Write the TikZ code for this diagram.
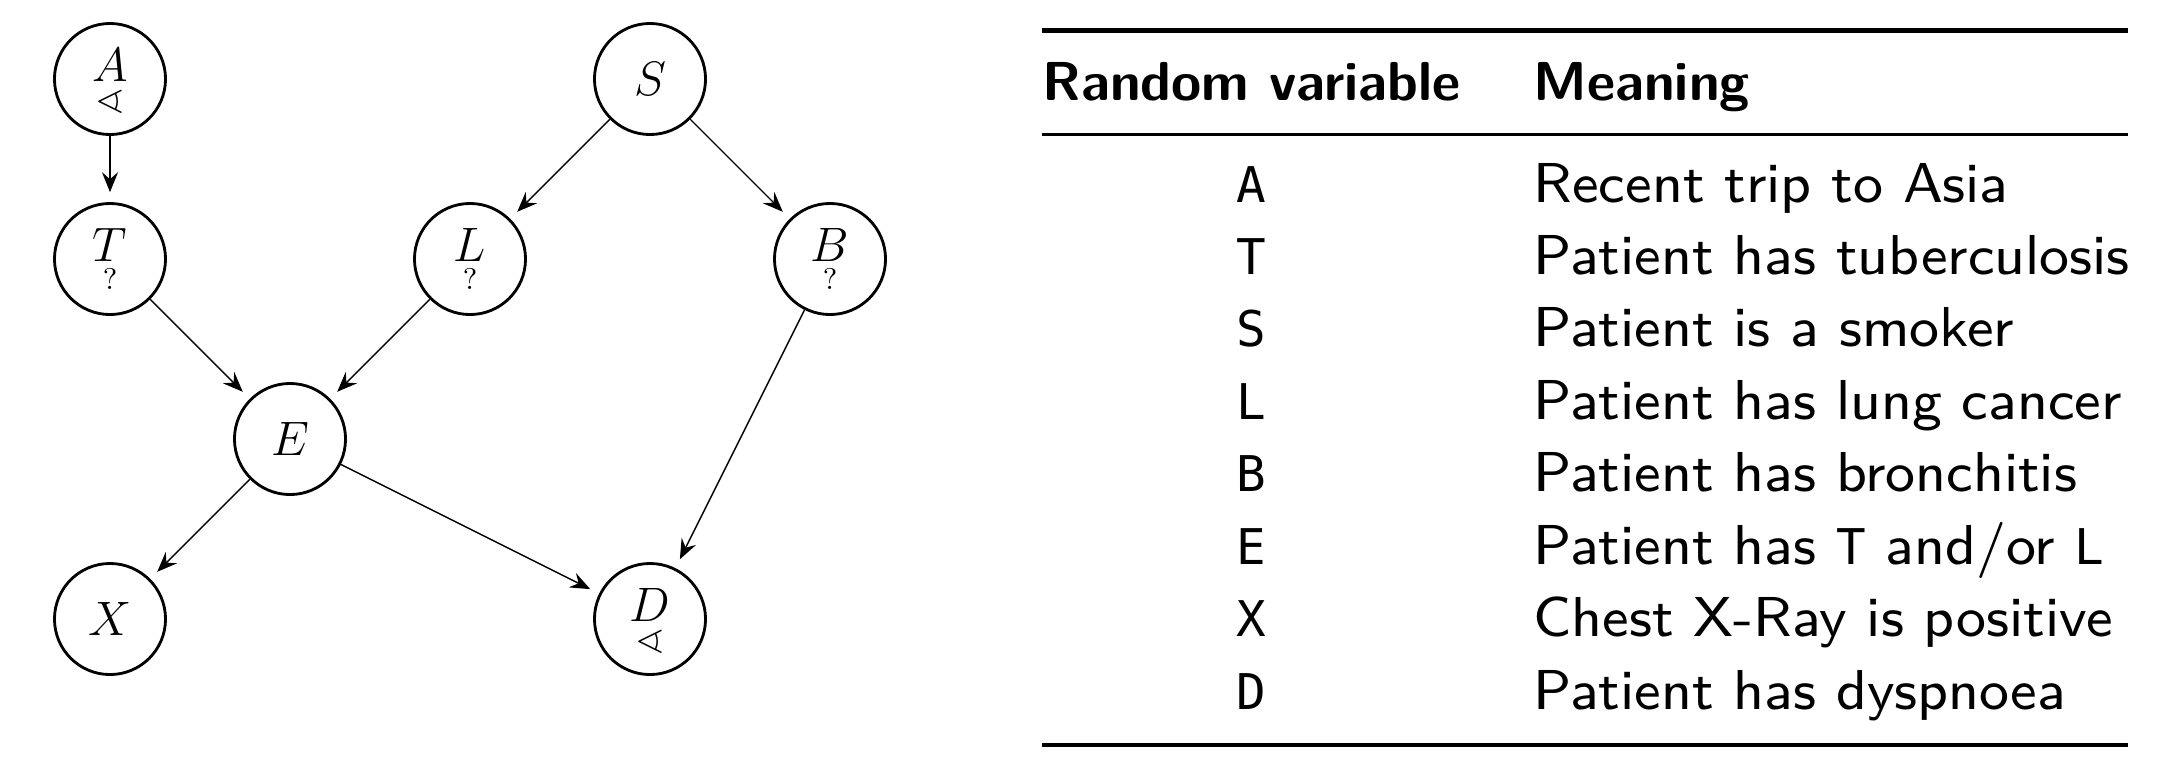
\RequirePackage{fix-cm}
\documentclass[tikz,border=0pt]{standalone}
\usepackage{amssymb}
\usepackage{fontspec}
\newfontfamily\monofam{DejaVu Sans Mono}
\newfontfamily\sanseight{lmsans8-regular.otf}
\newfontfamily\sansbold{lmsans10-bold.otf}
\usetikzlibrary{arrows.meta}
\newcommand{\mtt}[1]{{\monofam\fontsize{14}{17}\selectfont #1}}
\begin{document}
\begin{tikzpicture}[x=0.01cm,y=-0.01cm,
  var/.style={circle,draw,line width=0.8pt,minimum size=1.11cm,inner sep=0pt,font=\fontsize{13.75}{16}\selectfont},
  lettr/.style={inner sep=0pt,anchor=base,font=\fontsize{13.75}{16}\selectfont},
  symb/.style={inner sep=0pt,font=\fontsize{8.5}{10}\selectfont},
  angsymb/.style={inner sep=0pt,font=\fontsize{11}{13}\selectfont},
  edge/.style={-{Stealth[length=0.2cm,width=0.16cm,inset=0.07cm]},line width=0.4pt,shorten >=2.8pt},
  txt/.style={inner sep=0pt,anchor=base west,font=\sanseight\fontsize{16}{19}\selectfont},
  hdr/.style={inner sep=0pt,anchor=base west,font=\sansbold\fontsize{15.6}{19}\selectfont},
  code/.style={inner sep=0pt,anchor=base,font=\monofam\fontsize{14}{17}\selectfont},
  heavyrule/.style={line width=1.28pt},
  lightrule/.style={line width=0.85pt},
]
\useasboundingbox (0,0) rectangle (2170,766);
% graph
\node[var] (A) at (110,79) {};
\node[lettr] (Al) at (110,81) {$A$};
\node[angsymb] (As) at (110,102) {$\sphericalangle$};
\node[var] (S) at (650,79) {$S$};
\node[var] (T) at (110,259) {};
\node[lettr] (Tl) at (110,261) {$T$};
\node[symb] (Tq) at (110,279) {?};
\node[var] (L) at (470,259) {};
\node[lettr] (Ll) at (470,261) {$L$};
\node[symb] (Lq) at (470,279) {?};
\node[var] (B) at (830,259) {};
\node[lettr] (Bl) at (830,261) {$B$};
\node[symb] (Bq) at (830,279) {?};
\node[var] (E) at (290,439) {$E$};
\node[var] (X) at (110,619) {$X$};
\node[var] (D) at (650,619) {};
\node[lettr] (Dl) at (650,621) {$D$};
\node[angsymb] (Ds) at (650,642) {$\sphericalangle$};
\draw[edge] (A) -- (T);
\draw[edge] (S) -- (L);
\draw[edge] (S) -- (B);
\draw[edge] (T) -- (E);
\draw[edge] (L) -- (E);
\draw[edge] (B) -- (D);
\draw[edge] (E) -- (X);
\draw[edge] (E) -- (D);
% table
\draw[heavyrule] (1042,30.7) -- (2128,30.7);
\draw[lightrule] (1042,134) -- (2128,134);
\draw[heavyrule] (1042,745) -- (2128,745);
\node[hdr] (h1) at (1042,100) {Random variable};
\node[hdr] (h2) at (1533,100) {Meaning};
\node[code] (cA) at (1251,202) {A};
\node[txt] (mA) at (1533,202) {Recent trip to Asia};
\node[code] (cT) at (1251,274.4) {T};
\node[txt] (mT) at (1533,274.4) {Patient has tuberculosis};
\node[code] (cS) at (1251,346.9) {S};
\node[txt] (mS) at (1533,346.9) {Patient is a smoker};
\node[code] (cL) at (1251,419.3) {L};
\node[txt] (mL) at (1533,419.3) {Patient has lung cancer};
\node[code] (cB) at (1251,491.7) {B};
\node[txt] (mB) at (1533,491.7) {Patient has bronchitis};
\node[code] (cE) at (1251,564.1) {E};
\node[txt] (mE) at (1533,564.1) {Patient has \mtt{T} and/or \mtt{L}};
\node[code] (cX) at (1251,636.6) {X};
\node[txt] (mX) at (1533,636.6) {Chest X-Ray is positive};
\node[code] (cD) at (1251,709) {D};
\node[txt] (mD) at (1533,709) {Patient has dyspnoea};
\end{tikzpicture}
\end{document}
